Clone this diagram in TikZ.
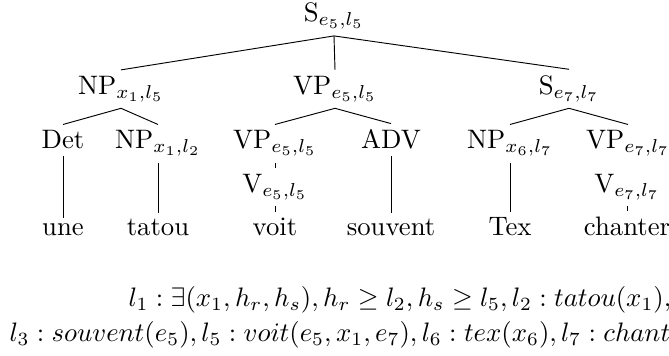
\documentclass[tikz,border=0pt]{standalone}
\begin{document}
\begin{tikzpicture}[x=0.3745pt,y=-0.3745pt,
  tn/.style={anchor=base,inner sep=2.15pt},
  fl/.style={anchor=base west,inner sep=0pt},
  edge/.style={line width=0.35pt}]
\useasboundingbox (0,0) rectangle (669,356);
\clip (0,0) rectangle (669,356);
% root
\node[tn] (s) at (334,22) {S$_{e_5,l_5}$};
% level 2
\node[tn] (np1) at (121,94.4) {NP$_{x_1,l_5}$};
\node[tn] (vp1) at (335,94.4) {VP$_{e_5,l_5}$};
\node[tn] (s7) at (569,94.4) {S$_{e_7,l_7}$};
% level 3
\node[tn] (det) at (63,149) {Det};
\node[tn] (np2) at (158,149) {NP$_{x_1,l_2}$};
\node[tn] (vp2) at (275,149) {VP$_{e_5,l_5}$};
\node[tn] (adv) at (391,149) {ADV};
\node[tn] (np6) at (510,149) {NP$_{x_6,l_7}$};
\node[tn] (vp7) at (628,149) {VP$_{e_7,l_7}$};
% V level
\node[tn] (v5) at (275,192.4) {V$_{e_5,l_5}$};
\node[tn] (v7) at (627,192.4) {V$_{e_7,l_7}$};
% words
\node[tn] (une) at (63,236) {une};
\node[tn] (tatou) at (158,236) {tatou};
\node[tn] (voit) at (275,236) {voit};
\node[tn] (souvent) at (391,236) {souvent};
\node[tn] (tex) at (510,236) {Tex};
\node[tn] (chanter) at (627,236) {chanter};
% edges
\draw[edge] (s.south) -- (np1.north);
\draw[edge] (s.south) -- (vp1.north);
\draw[edge] (s.south) -- (s7.north);
\draw[edge] (np1.south) -- (det.north);
\draw[edge] (np1.south) -- (np2.north);
\draw[edge] (vp1.south) -- (vp2.north);
\draw[edge] (vp1.south) -- (adv.north);
\draw[edge] (s7.south) -- (np6.north);
\draw[edge] (s7.south) -- (vp7.north);
\draw[edge] (det.south) -- (une.north);
\draw[edge] (np2.south) -- (tatou.north);
\draw[edge] (vp2.south) -- (v5.north);
\draw[edge] (v5.south) -- (voit.north);
\draw[edge] (adv.south) -- (souvent.north);
\draw[edge] (np6.south) -- (tex.north);
\draw[edge] (v7.south) -- (chanter.north);
% formula
\node[fl] (f1) at (128,306.7) {$l_1 : \exists(x_1, h_r, h_s), h_r \geq l_2, h_s \geq l_5, l_2 : tatou(x_1),$};
\node[fl] (f2) at (9,341.7) {$l_3 : souvent(e_5), l_5 : voit(e_5, x_1, e_7), l_6 : tex(x_6), l_7 : chant$};
\end{tikzpicture}
\end{document}
